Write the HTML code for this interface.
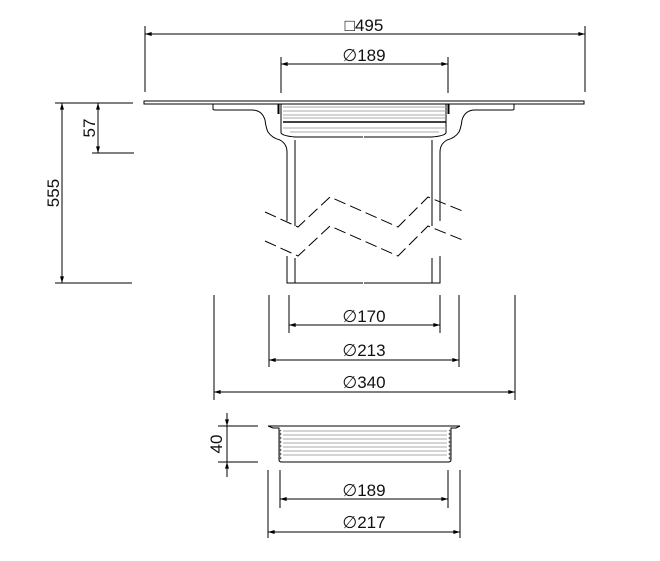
<!DOCTYPE html>
<html><head><meta charset="utf-8"><style>
html,body{margin:0;padding:0;background:#fff;}
svg{display:block;}
</style></head><body>
<svg width="660" height="561" viewBox="0 0 660 561" xmlns="http://www.w3.org/2000/svg">
<defs>
<marker id="a" viewBox="0 0 10 6" refX="10" refY="3" markerWidth="8" markerHeight="4" orient="auto-start-reverse" markerUnits="userSpaceOnUse"><path d="M0,0 L10,3 L0,6z" fill="#000"/></marker>
</defs>
<g stroke="#000" stroke-width="1" fill="none">
<line x1="145" y1="26" x2="145" y2="92"/><line x1="585" y1="26" x2="585" y2="92"/>
<line x1="145" y1="34" x2="585" y2="34" marker-start="url(#a)" marker-end="url(#a)"/>
<line x1="281" y1="57" x2="281" y2="93"/><line x1="448" y1="57" x2="448" y2="93"/>
<line x1="281" y1="64" x2="448" y2="64" marker-start="url(#a)" marker-end="url(#a)"/>
<line x1="55" y1="103" x2="133" y2="103"/><line x1="55" y1="283" x2="132" y2="283"/>
<line x1="62" y1="103" x2="62" y2="283" marker-start="url(#a)" marker-end="url(#a)"/>
<line x1="92" y1="153" x2="134" y2="153"/>
<line x1="98" y1="103" x2="98" y2="153" marker-start="url(#a)" marker-end="url(#a)"/>
<rect x="144" y="101" width="440" height="3"/>
<g id="half">
<path d="M213,104 V109 Q213,110 215,110 H252 Q262,110 265,120 Q266,128 268,132 Q272,138 280,140 Q287,144 287,152 V221"/>
<path d="M287,256 V283 H363"/>
<path d="M295,140 V226"/>
<path d="M295,258 V283"/>
<path d="M281,104 V133 Q283,136 295,137 H363"/>
<path d="M278.5,104 V114" stroke-width="2"/>
</g>
<use href="#half" transform="translate(727,0) scale(-1,1)"/>
<line x1="283" y1="122" x2="446" y2="122" stroke-width="1.5"/>
<g stroke="#aaa"><line x1="283" y1="107" x2="446" y2="107"/><line x1="283" y1="111" x2="446" y2="111"/><line x1="283" y1="115" x2="446" y2="115"/><line x1="283" y1="118" x2="446" y2="118"/><line x1="283" y1="128" x2="446" y2="128"/><line x1="290" y1="132" x2="439" y2="132"/></g>
<path d="M265,212 L298,227 L330,197 L398,227 L428,197 L465,212" stroke-dasharray="12,5"/>
<path d="M265,241 L298,256 L330,226 L398,256 L428,226 L465,241" stroke-dasharray="12,5"/>
<line x1="214" y1="295" x2="214" y2="400"/><line x1="515" y1="295" x2="515" y2="400"/>
<line x1="269" y1="295" x2="269" y2="367"/><line x1="459" y1="295" x2="459" y2="367"/>
<line x1="289" y1="295" x2="289" y2="333"/><line x1="440" y1="295" x2="440" y2="333"/>
<line x1="289" y1="325" x2="440" y2="325" marker-start="url(#a)" marker-end="url(#a)"/>
<line x1="269" y1="360" x2="459" y2="360" marker-start="url(#a)" marker-end="url(#a)"/>
<line x1="214" y1="392" x2="515" y2="392" marker-start="url(#a)" marker-end="url(#a)"/>
<path d="M268,426 H460 L456,428 H451 V460 Q451,462 448,462 H282 Q279,462 279,460 V428 H273 Z"/>
<path d="M281,430 l-2,2 2,2 -2,2 2,2 -2,2 2,2 -2,2 2,2 -2,2 2,2 -2,2 2,2 -2,2 2,2 -2,2" stroke="#555"/>
<path d="M449,430 l2,2 -2,2 2,2 -2,2 2,2 -2,2 2,2 -2,2 2,2 -2,2 2,2 -2,2 2,2 -2,2 2,2" stroke="#555"/>
<g stroke="#aaa"><line x1="283" y1="431" x2="447" y2="431"/><line x1="283" y1="435" x2="447" y2="435"/><line x1="283" y1="439" x2="447" y2="439"/><line x1="283" y1="443" x2="447" y2="443"/><line x1="283" y1="447" x2="447" y2="447"/><line x1="283" y1="451" x2="447" y2="451"/><line x1="283" y1="455" x2="447" y2="455"/></g>
<line x1="218" y1="426" x2="258" y2="426"/><line x1="218" y1="462" x2="258" y2="462"/>
<line x1="227" y1="413" x2="227" y2="426" marker-end="url(#a)"/>
<line x1="227" y1="477" x2="227" y2="462" marker-end="url(#a)"/>
<line x1="227" y1="426" x2="227" y2="462"/>
<line x1="280" y1="470" x2="280" y2="508"/><line x1="448" y1="470" x2="448" y2="508"/>
<line x1="280" y1="499" x2="448" y2="499" marker-start="url(#a)" marker-end="url(#a)"/>
<line x1="268" y1="470" x2="268" y2="538"/><line x1="460" y1="470" x2="460" y2="538"/>
<line x1="268" y1="532" x2="460" y2="532" marker-start="url(#a)" marker-end="url(#a)"/>
</g>
<g font-family="Liberation Sans, sans-serif" font-size="17" fill="#111">
<text x="364" y="31" text-anchor="middle">□495</text>
<text x="364" y="61" text-anchor="middle">∅189</text>
<text transform="translate(59,193) rotate(-90)" text-anchor="middle">555</text>
<text transform="translate(95,128) rotate(-90)" text-anchor="middle">57</text>
<text x="364" y="322" text-anchor="middle">∅170</text>
<text x="364" y="356" text-anchor="middle">∅213</text>
<text x="364" y="388" text-anchor="middle">∅340</text>
<text transform="translate(222,444) rotate(-90)" text-anchor="middle">40</text>
<text x="364" y="496" text-anchor="middle">∅189</text>
<text x="364" y="528" text-anchor="middle">∅217</text>
</g>
</svg>
</body></html>
